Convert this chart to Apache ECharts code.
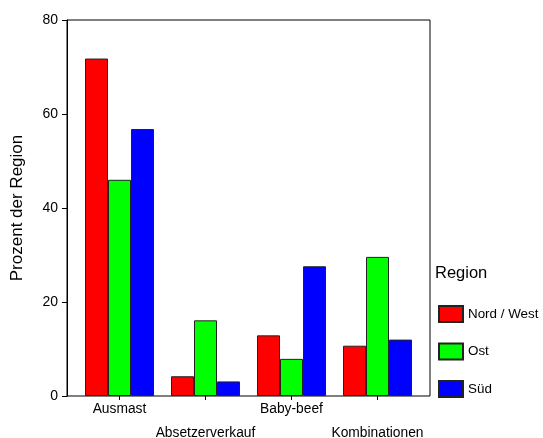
<!DOCTYPE html>
<html><head><meta charset="utf-8">
<script src="https://cdn.jsdelivr.net/npm/echarts@6/dist/echarts.min.js"></script>
<style>html,body{margin:0;padding:0;background:#fff}#c{width:543px;height:438px}</style>
</head><body><div id="c"></div>
<script>
const categories = ['Ausmast', 'Absetzerverkauf', 'Baby-beef', 'Kombinationen'];
const nordWest = [71.8, 4.2, 12.9, 10.7];
const ost = [46.0, 16.1, 7.9, 29.6];
const sued = [56.8, 3.1, 27.6, 12.0];
const seriesNames = ['Nord / West', 'Ost', 'Süd'];
const yTicks = { min: 0, max: 80, interval: 20 };

const font = 'Liberation Sans, Arial, sans-serif';
const chart = echarts.init(document.getElementById('c'));
const mk = (name, data, color) => ({
  name, type: 'bar', data, xAxisIndex: 1, yAxisIndex: 1,
  barWidth: 23, barGap: '0%',
  itemStyle: { color, borderColor: '#222', borderWidth: 1 }
});
chart.setOption({
  animation: false,
  backgroundColor: '#fff',
  textStyle: { fontFamily: font },
  title: { text: 'Region', left: 430, top: 260, textStyle: { fontFamily: font, fontSize: 16.5, fontWeight: 'normal', color: '#000' } },
  legend: {
    orient: 'vertical', left: 433, top: 300, itemWidth: 24, itemHeight: 16, itemGap: 19.5,
    icon: 'rect', data: seriesNames,
    textStyle: { fontFamily: font, fontSize: 13.4, color: '#000', padding: [0, 0, 0, 0] }
  },
  grid: [
    { left: 67, top: 20, right: 113, bottom: 42, containLabel: false, outerBoundsMode: 'none', show: true, borderColor: '#000', borderWidth: 1, backgroundColor: 'transparent' },
    { left: 76.5, top: 20, right: 122.5, bottom: 42, containLabel: false, outerBoundsMode: 'none' }
  ],
  xAxis: [
    { type: 'value', gridIndex: 0, min: 0, max: 1, show: false },
    { type: 'category', gridIndex: 1, data: categories,
      axisLine: { show: false },
      axisTick: { show: true, alignWithLabel: true, length: 4, lineStyle: { color: '#000' } },
      axisLabel: { interval: 0, margin: 1, fontSize: 13.8, color: '#000', fontFamily: font, lineHeight: 24,
        formatter: (v, i) => (i % 2 ? '\n' + v : v) } }
  ],
  yAxis: [
    { type: 'value', gridIndex: 0, min: yTicks.min, max: yTicks.max, interval: yTicks.interval,
      name: 'Prozent der Region', nameLocation: 'middle', nameGap: 41,
      nameTextStyle: { fontSize: 17, color: '#000', fontFamily: font },
      axisLine: { show: true, lineStyle: { color: '#000' } },
      axisTick: { show: true, inside: false, length: 5, lineStyle: { color: '#000' } },
      axisLabel: { fontSize: 14, color: '#000', margin: 9, fontFamily: font },
      splitLine: { show: false } },
    { type: 'value', gridIndex: 1, min: yTicks.min, max: yTicks.max, show: false, splitLine: { show: false } }
  ],
  series: [
    mk(seriesNames[0], nordWest, '#ff0000'),
    mk(seriesNames[1], ost, '#00ff00'),
    mk(seriesNames[2], sued, '#0000ff')
  ]
});
</script></body></html>
